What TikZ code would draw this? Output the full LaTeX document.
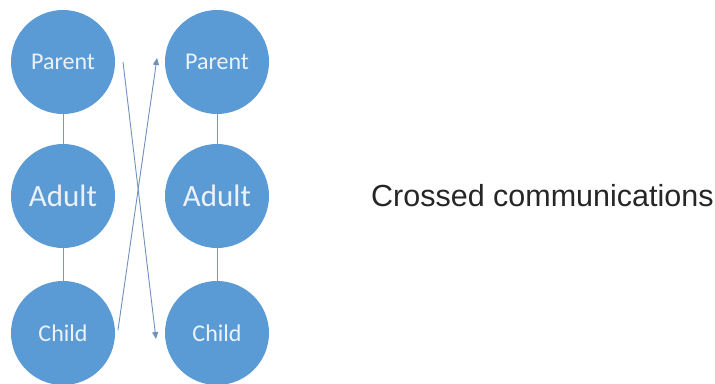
\documentclass[tikz,border=0pt]{standalone}
\usepackage{fontspec}
\setmainfont{Liberation Sans}
\newfontfamily\calibri{Carlito}
\usetikzlibrary{arrows.meta}
\definecolor{circblue}{RGB}{91,155,213}
\definecolor{circtext}{RGB}{236,242,249}
\definecolor{linegrey}{RGB}{128,150,180}
\definecolor{arrowblue}{RGB}{110,145,190}
\begin{document}
\begin{tikzpicture}[x=1pt,y=-1pt,
  ego/.style={circle,fill=circblue,draw=none,minimum size=104pt,inner sep=0pt,text=circtext,font=\calibri\fontsize{24}{28}\selectfont},
  egobig/.style={ego,font=\calibri\fontsize{31}{36}\selectfont},
  link/.style={draw=linegrey,line width=0.9pt},
  msg/.style={draw=arrowblue,line width=0.9pt,-{Triangle[length=7pt,width=6pt]}}]
\useasboundingbox (0,0) rectangle (715,383);
\node[ego] (p1) at (63,62) {Parent};
\node[egobig] (a1) at (63,196) {Adult};
\node[ego] (c1) at (63,333) {Child};
\node[ego] (p2) at (217,62) {Parent};
\node[egobig] (a2) at (217,196) {Adult};
\node[ego] (c2) at (217,333) {Child};
\draw[link] (p1) -- (a1);
\draw[link] (a1) -- (c1);
\draw[link] (p2) -- (a2);
\draw[link] (a2) -- (c2);
\coordinate (s1) at (123,62);
\coordinate (e1) at (156,339);
\coordinate (s2) at (118,330);
\coordinate (e2) at (157,58);
\draw[msg] (s1) -- (e1);
\draw[msg] (s2) -- (e2);
\node[anchor=west,inner sep=0pt,text=black!85,font=\fontsize{30.5}{36}\selectfont] (t) at (371,196) {Crossed communications};
\end{tikzpicture}
\end{document}
